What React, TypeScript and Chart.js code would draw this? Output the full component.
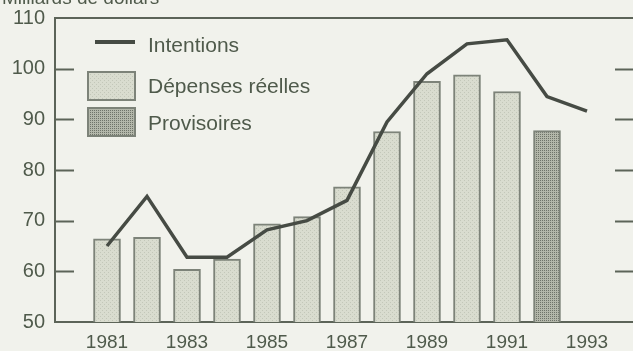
import React, { useEffect, useRef } from "react";
import { Chart, registerables } from "chart.js";

Chart.register(...registerables);

const titleText = "Milliards de dollars";
const lineYears = [1981, 1982, 1983, 1984, 1985, 1986, 1987, 1988, 1989, 1990, 1991, 1992, 1993];
const intentions = [65, 74.8, 62.8, 62.8, 68.2, 70, 74, 89.5, 99, 104.9, 105.7, 94.5, 91.6];
const depensesYears = [1981, 1982, 1983, 1984, 1985, 1986, 1987, 1988, 1989, 1990, 1991];
const depenses = [66.4, 66.7, 60.4, 62.4, 69.4, 70.8, 76.7, 87.6, 97.5, 98.8, 95.5];
const provisoiresYears = [1992];
const provisoires = [87.8];
const xTickYears = [1981, 1983, 1985, 1987, 1989, 1991, 1993];
const yTickValues = [50, 60, 70, 80, 90, 100, 110];
const seriesLabels = ["Intentions", "Dépenses réelles", "Provisoires"];

const BG = "#f1f2ec";
const INK = "#4f5a4b";
const AXIS = "#5c6458";
const LINE = "#464b44";
const BAR_BORDER = "#7d8379";

function makePattern(bg: string, dot: string, size: number, dotsAt: number[][]) {
  const c = document.createElement("canvas");
  c.width = size;
  c.height = size;
  const g = c.getContext("2d")!;
  g.fillStyle = bg;
  g.fillRect(0, 0, size, size);
  g.fillStyle = dot;
  dotsAt.forEach(([x, y]) => g.fillRect(x, y, 1, 1));
  return g.createPattern(c, "repeat")!;
}

export default function App() {
  const ref = useRef<HTMLCanvasElement | null>(null);

  useEffect(() => {
    const canvas = ref.current!;
    const lightPat = makePattern("#d9dccf", "#c3c7b9", 4, [[0, 0], [2, 2]]);
    const darkPat = makePattern("#b3b7aa", "#6e7369", 2, [[0, 0]]);

    const decor = {
      id: "decor",
      beforeDraw(chart: any) {
        const ctx = chart.ctx;
        ctx.save();
        ctx.fillStyle = BG;
        ctx.fillRect(0, 0, chart.width, chart.height);
        ctx.restore();
      },
      afterDraw(chart: any) {
        const ctx = chart.ctx;
        const { left, right, top } = chart.chartArea;
        const ys = chart.scales.y;
        ctx.save();
        // top border
        ctx.strokeStyle = AXIS;
        ctx.lineWidth = 2;
        ctx.beginPath();
        ctx.moveTo(left - 1, top);
        ctx.lineTo(chart.width, top);
        ctx.stroke();
        // inward ticks left and right
        yTickValues.forEach((v) => {
          if (v === 50 || v === 110) return;
          const y = Math.round(ys.getPixelForValue(v)) + 0.5;
          ctx.beginPath();
          ctx.moveTo(left, y);
          ctx.lineTo(left + 19, y);
          ctx.moveTo(right - 19, y);
          ctx.lineTo(right, y);
          ctx.stroke();
        });
        // title
        ctx.fillStyle = INK;
        ctx.font = "19px 'Liberation Sans', Arial, sans-serif";
        ctx.textBaseline = "alphabetic";
        ctx.textAlign = "left";
        ctx.fillText(titleText, 2, 4);
        // legend
        const ds = chart.data.datasets;
        ctx.font = "21px 'Liberation Sans', Arial, sans-serif";
        ctx.textBaseline = "middle";
        // line entry
        ctx.strokeStyle = LINE;
        ctx.lineWidth = 4;
        ctx.beginPath();
        ctx.moveTo(95, 42);
        ctx.lineTo(135, 42);
        ctx.stroke();
        ctx.fillText(ds[0].label, 148, 46);
        // box entries
        const boxes = [
          { y: 72, pat: lightPat, label: ds[1].label, ty: 87 },
          { y: 108, pat: darkPat, label: ds[2].label, ty: 124 },
        ];
        boxes.forEach((b) => {
          ctx.fillStyle = b.pat;
          ctx.fillRect(88, b.y, 47, 28);
          ctx.strokeStyle = BAR_BORDER;
          ctx.lineWidth = 2;
          ctx.strokeRect(88, b.y, 47, 28);
          ctx.fillStyle = INK;
          ctx.fillText(b.label, 148, b.ty);
        });
        ctx.restore();
      },
    };

    const chart = new Chart(canvas, {
      type: "bar",
      data: {
        datasets: [
          {
            type: "line",
            label: seriesLabels[0],
            data: lineYears.map((x, i) => ({ x, y: intentions[i] })),
            borderColor: LINE,
            borderWidth: 3.5,
            pointRadius: 0,
            tension: 0,
            fill: false,
            order: 0,
          } as any,
          {
            type: "bar",
            label: seriesLabels[1],
            data: depensesYears.map((x, i) => ({ x, y: depenses[i] })),
            backgroundColor: lightPat,
            borderColor: BAR_BORDER,
            borderWidth: 2,
            borderSkipped: "bottom",
            barThickness: 27,
            grouped: false,
            order: 1,
          },
          {
            type: "bar",
            label: seriesLabels[2],
            data: provisoiresYears.map((x, i) => ({ x, y: provisoires[i] })),
            backgroundColor: darkPat,
            borderColor: BAR_BORDER,
            borderWidth: 2,
            borderSkipped: "bottom",
            barThickness: 27,
            grouped: false,
            order: 2,
          },
        ],
      },
      options: {
        animation: false,
        responsive: false,
        layout: { padding: { top: 18, right: 11, left: 0, bottom: 0 } },
        plugins: { legend: { display: false }, tooltip: { enabled: false }, title: { display: false } },
        scales: {
          x: {
            type: "linear",
            min: 1979.7,
            max: 1994.175,
            offset: false,
            grid: { display: false, drawTicks: false, offset: false },
            border: { display: true, color: AXIS, width: 2 },
            afterBuildTicks: (scale: any) => {
              scale.ticks = xTickYears.map((v) => ({ value: v }));
            },
            afterFit: (scale: any) => {
              scale.height = 29;
              scale.paddingLeft = 0;
              scale.paddingRight = 0;
            },
            ticks: {
              autoSkip: false,
              maxRotation: 0,
              padding: 9,
              color: INK,
              font: { family: "'Liberation Sans', Arial, sans-serif", size: 19 },
              callback: (v: any) => String(v),
            },
          },
          y: {
            type: "linear",
            min: 50,
            max: 110,
            grid: { display: false, drawTicks: false },
            border: { display: true, color: AXIS, width: 2 },
            afterBuildTicks: (scale: any) => {
              scale.ticks = yTickValues.map((v) => ({ value: v }));
            },
            afterFit: (scale: any) => {
              scale.width = 55;
              scale.paddingTop = 0;
              scale.paddingBottom = 0;
            },
            ticks: {
              padding: 10,
              color: INK,
              font: { family: "'Liberation Sans', Arial, sans-serif", size: 20 },
              callback: (v: any) => String(v),
            },
          },
        },
      },
      plugins: [decor],
    } as any);

    return () => chart.destroy();
  }, []);

  return (
    <div
      style={{
        position: "fixed",
        left: 0,
        top: 0,
        width: 633,
        height: 351,
        overflow: "hidden",
        background: BG,
      }}
    >
      <canvas ref={ref} width={645} height={351} style={{ display: "block", width: 645, height: 351 }} />
    </div>
  );
}
